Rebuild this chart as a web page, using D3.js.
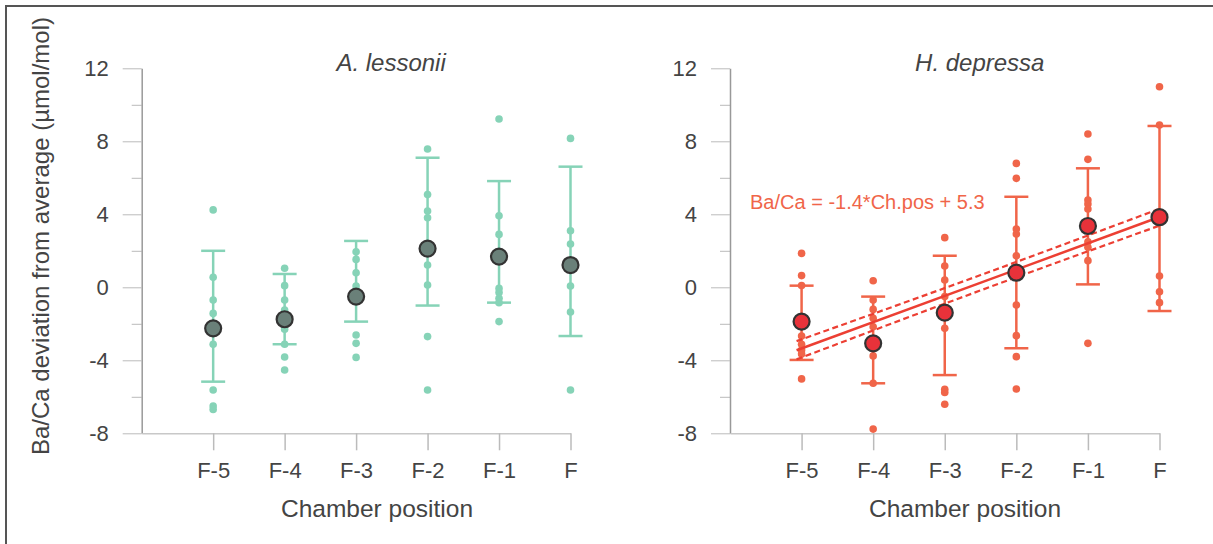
<!DOCTYPE html>
<html>
<head>
<meta charset="utf-8">
<script src="https://cdn.jsdelivr.net/npm/d3@7"></script>
<style>
  body { margin: 0; background: #fff; }
  svg { display: block; font-family: 'Liberation Sans', Arial, sans-serif; }
  .tick text { fill: #444; }
</style>
</head>
<body>
<div class="graph-container"></div>
<script>
// chamber positions (x categories) and y ticks
var categories = ['F-5', 'F-4', 'F-3', 'F-2', 'F-1', 'F'];
var yTicks = [-8, -4, 0, 4, 8, 12];
var yMinorTicks = [-6, -2, 2, 6, 10];

// A. lessonii - individual measurements per chamber
var lessoniiPoints = [
    [4.24, 0.55, -0.70, -1.43, -3.12, -5.63, -6.50, -6.69],
    [1.04, 0.09, -0.70, -1.24, -2.30, -3.12, -3.82, -4.53],
    [1.95, 1.53, 0.80, 0.07, -2.61, -3.07, -3.84],
    [7.58, 5.08, 4.18, 3.81, 2.41, 1.22, 0.13, -2.70, -5.63],
    [9.22, 3.92, 2.90, 1.86, 1.46, -0.06, -0.29, -0.60, -0.84, -1.88],
    [8.16, 3.10, 2.37, 0.07, -1.35, -5.63]
];
var lessoniiMeans = [-2.25, -1.75, -0.51, 2.12, 1.68, 1.22];
var lessoniiErrLow = [-5.17, -3.12, -1.88, -1.00, -0.84, -2.67];
var lessoniiErrHigh = [2.00, 0.73, 2.54, 7.10, 5.82, 6.61];

// H. depressa - individual measurements per chamber
var depressaPoints = [
    [1.86, 0.64, 0.10, -2.67, -3.12, -3.44, -3.65, -5.02],
    [0.36, -0.70, -1.21, -1.70, -2.16, -3.76, -5.26, -7.77],
    [2.72, 1.17, 0.40, -0.51, -2.25, -5.59, -5.76, -6.41],
    [6.79, 5.97, 3.19, 2.92, 1.73, -0.97, -2.65, -3.80, -5.57],
    [8.40, 7.01, 4.78, 4.56, 4.29, 2.50, 2.19, 1.46, -3.07],
    [10.99, 8.89, 0.62, -0.24, -0.84]
];
var depressaMeans = [-1.88, -3.07, -1.39, 0.80, 3.36, 3.84];
var depressaErrLow = [-3.98, -5.26, -4.81, -3.34, 0.16, -1.30];
var depressaErrHigh = [0.09, -0.51, 1.73, 4.96, 6.52, 8.84];

// regression line for H. depressa and its confidence band
var fitPos = [0.93, 6];
var fitVal = [-3.45, 3.85];
var ciPos = [0.93, 3.5, 6];
var ciLow = [-3.95, -0.17, 3.38];
var ciHigh = [-2.95, 0.67, 4.30];
var fitLabel = 'Ba/Ca = -1.4*Ch.pos + 5.3';

var svgWidth = 1213;
var svgHeight = 544;
var textColor = '#444';

var svg = d3.select('.graph-container').append('svg')
    .attr('width', svgWidth)
    .attr('height', svgHeight);

// frame
svg.append('path')
    .attr('d', 'M6,' + svgHeight + 'V6H' + svgWidth)
    .attr('fill', 'none')
    .attr('stroke', '#555')
    .attr('stroke-width', 2);

var yScale = d3.scaleLinear()
    .domain([-8, 12])
    .range([433.3, 68.3]);

// y-axis title
svg.append('text')
    .attr('transform', 'translate(40,236) rotate(-90)')
    .attr('text-anchor', 'middle')
    .attr('dominant-baseline', 'central')
    .style('font-size', '24px')
    .attr('fill', textColor)
    .text('Ba/Ca deviation from average (\u00b5mol/mol)');

function drawPanel(opts) {
    var xScale = d3.scaleLinear()
        .domain([0, 6])
        .range([opts.left, opts.right]);

    var g = svg.append('g');

    // minor y ticks
    var yMinor = d3.axisLeft(yScale)
        .tickValues(yMinorTicks)
        .tickSize(10)
        .tickFormat('');
    g.append('g')
        .attr('transform', 'translate(' + opts.left + ',0)')
        .call(yMinor)
        .call(function(s) { s.select('.domain').remove(); })
        .selectAll('line').attr('stroke', '#bbb');

    // major y ticks (plain hyphen for negatives, as in the original)
    var yAxis = d3.axisLeft(yScale)
        .tickValues(yTicks)
        .tickFormat(function(d) { return String(d); })
        .tickSize(19)
        .tickPadding(14)
        .tickSizeOuter(0);
    var ya = g.append('g')
        .attr('transform', 'translate(' + opts.left + ',0)')
        .call(yAxis);
    ya.select('.domain').attr('stroke', '#999').attr('stroke-width', 1.5);
    ya.selectAll('line').attr('stroke', '#bbb');
    ya.selectAll('text').style('font-size', '22px');

    // x axis
    var xAxis = d3.axisBottom(xScale)
        .tickValues([1, 2, 3, 4, 5, 6])
        .tickFormat(function(d) { return categories[d - 1]; })
        .tickSize(17)
        .tickPadding(12)
        .tickSizeOuter(0);
    var xa = g.append('g')
        .attr('transform', 'translate(0,' + yScale(-8) + ')')
        .call(xAxis);
    xa.select('.domain').attr('stroke', '#c8c8c8').attr('stroke-width', 1.5);
    xa.selectAll('line').attr('stroke', '#bbb').attr('stroke-width', 1.5);
    xa.selectAll('text').style('font-size', '22px');

    // x-axis title
    g.append('text')
        .attr('x', opts.titleX)
        .attr('y', 508)
        .attr('text-anchor', 'middle')
        .attr('dominant-baseline', 'central')
        .style('font-size', '24.5px')
        .attr('fill', textColor)
        .text('Chamber position');

    // species title
    g.append('text')
        .attr('x', (opts.left + opts.right) / 2 + 35)
        .attr('y', 62)
        .attr('text-anchor', 'middle')
        .attr('dominant-baseline', 'central')
        .style('font-size', '24px')
        .style('font-style', 'italic')
        .attr('fill', textColor)
        .text(opts.title);

    // error bars
    var capHalf = 12;
    var bars = g.append('g')
        .selectAll('g')
        .data(opts.means)
        .enter()
        .append('g')
        .attr('stroke', opts.color)
        .attr('stroke-width', 2.5);
    bars.append('line')
        .attr('x1', function(d, i) { return xScale(i + 1); })
        .attr('x2', function(d, i) { return xScale(i + 1); })
        .attr('y1', function(d, i) { return yScale(opts.errLow[i]); })
        .attr('y2', function(d, i) { return yScale(opts.errHigh[i]); });
    bars.append('line')
        .attr('x1', function(d, i) { return xScale(i + 1) - capHalf; })
        .attr('x2', function(d, i) { return xScale(i + 1) + capHalf; })
        .attr('y1', function(d, i) { return yScale(opts.errLow[i]); })
        .attr('y2', function(d, i) { return yScale(opts.errLow[i]); });
    bars.append('line')
        .attr('x1', function(d, i) { return xScale(i + 1) - capHalf; })
        .attr('x2', function(d, i) { return xScale(i + 1) + capHalf; })
        .attr('y1', function(d, i) { return yScale(opts.errHigh[i]); })
        .attr('y2', function(d, i) { return yScale(opts.errHigh[i]); });

    // individual measurements
    var flat = [];
    opts.points.forEach(function(arr, i) {
        arr.forEach(function(v) { flat.push([i + 1, v]); });
    });
    g.append('g')
        .selectAll('circle')
        .data(flat)
        .enter()
        .append('circle')
        .attr('cx', function(d) { return xScale(d[0]); })
        .attr('cy', function(d) { return yScale(d[1]); })
        .attr('r', 3.8)
        .attr('fill', opts.color);

    if (opts.fit) {
        var line = d3.line()
            .x(function(d) { return xScale(d[0]); })
            .y(function(d) { return yScale(d[1]); });
        var curve = d3.line()
            .curve(d3.curveMonotoneX)
            .x(function(d) { return xScale(d[0]); })
            .y(function(d) { return yScale(d[1]); });

        g.append('path')
            .attr('d', curve(ciPos.map(function(p, i) { return [p, ciHigh[i]]; })))
            .attr('fill', 'none')
            .attr('stroke', opts.fitColor)
            .attr('stroke-width', 2.2)
            .attr('stroke-dasharray', '6,3.5');
        g.append('path')
            .attr('d', curve(ciPos.map(function(p, i) { return [p, ciLow[i]]; })))
            .attr('fill', 'none')
            .attr('stroke', opts.fitColor)
            .attr('stroke-width', 2.2)
            .attr('stroke-dasharray', '6,3.5');
        g.append('path')
            .attr('d', line(fitPos.map(function(p, i) { return [p, fitVal[i]]; })))
            .attr('fill', 'none')
            .attr('stroke', opts.fitColor)
            .attr('stroke-width', 2.5);

        g.append('text')
            .attr('x', xScale(0.28))
            .attr('y', yScale(4.68))
            .attr('dominant-baseline', 'central')
            .style('font-size', '20px')
            .attr('fill', opts.color)
            .text(fitLabel);
    }

    // means
    g.append('g')
        .selectAll('circle')
        .data(opts.means)
        .enter()
        .append('circle')
        .attr('cx', function(d, i) { return xScale(i + 1); })
        .attr('cy', function(d) { return yScale(d); })
        .attr('r', 8)
        .attr('fill', opts.meanColor)
        .attr('stroke', '#333')
        .attr('stroke-width', 2.2);
}

drawPanel({
    left: 141.7, right: 570.5, titleX: 377,
    title: 'A. lessonii',
    points: lessoniiPoints, means: lessoniiMeans,
    errLow: lessoniiErrLow, errHigh: lessoniiErrHigh,
    color: '#86d3b7', meanColor: '#6a8079', fit: false
});

drawPanel({
    left: 730, right: 1159.5, titleX: 965,
    title: 'H. depressa',
    points: depressaPoints, means: depressaMeans,
    errLow: depressaErrLow, errHigh: depressaErrHigh,
    color: '#f06549', meanColor: '#e8323a', fitColor: '#ec3f33', fit: true
});
</script>
</body>
</html>
